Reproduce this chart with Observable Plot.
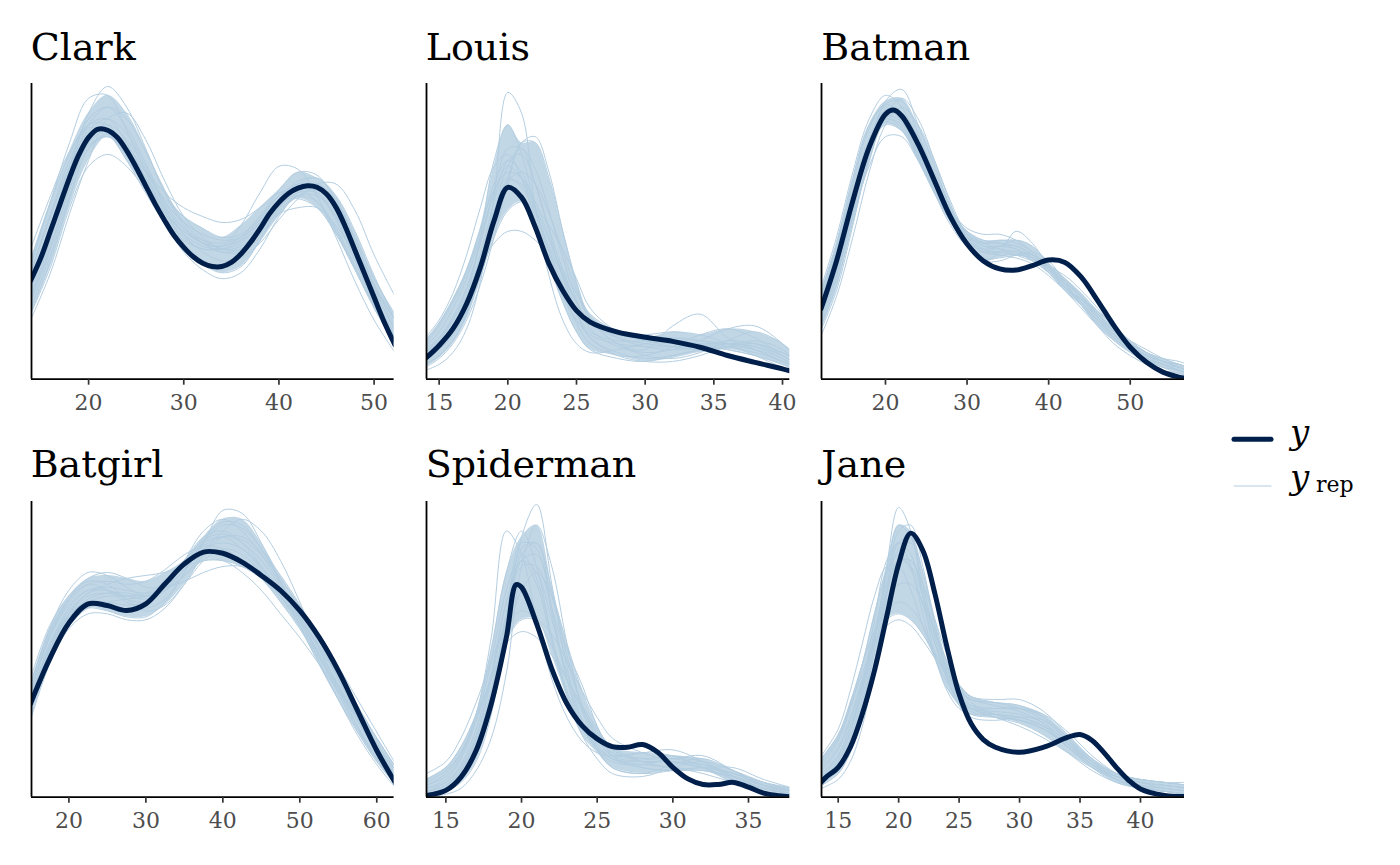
<!DOCTYPE html>
<html><head><meta charset="utf-8">
<script src="https://cdn.jsdelivr.net/npm/d3@7"></script>
<script src="https://cdn.jsdelivr.net/npm/@observablehq/plot@0.6"></script>
<style>
body{margin:0;background:#fff;}
#chart{position:relative;width:1400px;height:865px;background:#fff;overflow:hidden;}
#chart svg.panel{position:absolute;}
#overlay{position:absolute;left:0;top:0;}
</style></head><body><div id="chart"></div>
<script>
// ---- data (density heights in % of panel height) ----
const names = ["Clark","Louis","Batman","Batgirl","Spiderman","Jane"];

const clarkTicks = [20,30,40,50];
const clarkObsX = [13.9,15,16,17,18,19,20,21,22,23,24,25,26,27,28,29,30,31,32,33,34,35,36,37,38,39,40,41,42,43,44,45,46,47,48,49,50,51,52.2];
const clarkObs = [33.3,41.2,50.2,59.2,68.2,76.1,81.8,84.6,84.2,81.8,77.3,71.6,65.4,59.2,53.6,48.5,44.6,41.4,39.2,38.1,38.1,39.5,42.3,46.2,50.8,55.9,59.8,62.8,64.6,65.4,64.9,62.6,58.1,51.4,43.5,35.6,27.7,19.8,11.5];
const clarkRepX = [13.9,16,18,20,22,24,26,28,30,32,34,36,38,40,42,44,46,48,50,52.2];
const clarkRep = [
 [38,60,80,95,96,84,70,57,49,45,44,46,53,60,62,60,51,38,25,13],
 [28,47,70,90,99,92,78,63,52,46,43,44,50,58,63,63,55,42,28,15],
 [22,38,58,72,76,72,64,56,50,46,45,48,55,62,66,65,57,44,30,17],
 [20,36,56,74,88,90,81,67,55,48,44,45,51,60,66,68,62,50,35,20],
 [40,60,76,86,86,78,66,53,43,37,34,36,44,55,63,66,60,47,32,18],
 [30,48,66,79,82,77,70,63,58,55,53,54,58,63,64,60,50,37,24,12],
 [34,52,70,82,84,77,67,56,48,44,45,52,63,72,71,62,48,33,20,9],
 [26,44,64,80,86,81,71,59,49,43,40,41,46,54,61,66,66,57,42,28],
 [44,62,77,85,83,74,63,53,47,44,44,47,54,62,65,63,54,40,26,14],
 [32,52,72,88,92,85,73,60,51,46,45,47,51,56,58,58,52,42,31,20],
 [24,42,62,78,83,79,70,60,53,49,47,48,53,61,67,68,61,47,31,16],
 [36,55,72,84,88,83,72,58,46,39,36,38,47,58,65,65,57,43,28,14],
 [30,50,70,86,92,88,77,64,53,47,44,44,49,57,62,62,55,44,32,20],
 [27,45,65,80,84,78,68,58,51,47,46,48,54,60,61,58,49,37,25,13],
 [36,56,74,86,88,80,68,57,50,46,43,43,48,56,62,64,59,48,34,22],
 [22,40,61,78,82,76,68,61,55,51,48,49,55,64,70,69,60,45,29,14]
];

const louisTicks = [15,20,25,30,35,40];
const louisObsX = [14,15,16,17,18,19,20,21,22,23,24,25,26,28,30,32,34,36,38,40,40.6];
const louisObs = [7.0,11.4,17,25.5,37.8,53.6,64.9,61.5,51.4,39,30,23.2,19.3,15.9,14.2,12.8,10.8,8,5.7,3.5,2.7];
const louisRepX = [14,15,16,17,18,19,20,21,22,23,24,25,26,28,30,32,34,36,38,40,41];
const louisRep = [
 [3,5,9,17,33,62,97,90,58,35,20,12,9,10,12,13,12,10,8,5,3],
 [12,18,26,36,50,66,74,70,58,44,32,22,16,13,13,14,13,11,9,6,4],
 [10,14,20,28,38,46,50,50,47,42,37,29,22,16,13,11,10,11,12,9,7],
 [4,7,12,20,32,48,66,80,80,68,50,33,21,14,11,10,11,13,12,8,5],
 [9,14,21,31,46,63,72,68,57,43,30,19,12,8,8,11,15,17,14,8,5],
 [5,8,13,22,35,51,68,80,82,70,50,32,20,12,8,7,9,13,16,12,8],
 [14,20,29,42,58,72,76,68,54,39,26,16,10,7,6,8,10,12,12,9,6],
 [6,10,17,28,48,74,86,76,58,41,28,20,15,12,11,11,11,10,8,5,3],
 [7,11,17,26,40,56,67,70,66,56,43,30,20,12,10,18,22,14,10,6,4],
 [8,12,18,27,41,57,67,66,58,47,36,26,19,15,14,14,13,12,10,6,4],
 [11,16,24,34,48,62,68,65,56,45,35,26,19,14,12,11,11,12,11,8,5],
 [5,8,13,22,37,56,72,78,71,57,41,27,17,11,9,10,13,17,18,12,7],
 [9,13,20,30,46,64,78,78,66,50,34,22,14,9,7,8,10,11,10,7,4],
 [6,10,15,23,35,48,57,60,58,52,44,34,24,16,13,12,12,12,11,7,4],
 [13,19,27,37,51,64,70,68,60,48,35,23,14,8,6,6,8,11,13,10,6],
 [7,11,17,27,42,60,74,76,66,51,37,26,19,15,15,16,15,12,8,4,2]
];

const batmanTicks = [20,30,40,50];
const batmanObsX = [12.1,14,16,18,20,21,22,24,26,28,30,32,34,36,38,40,42,44,46,48,50,52,54,56,56.8];
const batmanObs = [23.8,40,60.4,78.4,89.6,91,89,79.5,67.1,54.7,45.7,40,37.3,36.9,38.4,40.3,39.5,34.5,26.6,18.1,10.8,5.7,2.4,0.7,0.3];
const batmanRepX = [12,14,16,18,20,22,24,26,28,30,32,34,36,38,40,42,44,46,48,50,52,54,56,57];
const batmanRep = [
 [30,48,70,88,96,92,80,68,56,48,44,42,41,39,35,30,25,20,15,11,8,6,4,3],
 [16,30,52,76,94,98,86,72,58,48,43,43,43,42,38,33,27,21,16,12,9,6,5,4],
 [20,35,55,72,82,82,74,65,57,51,49,49,47,43,38,32,26,20,14,10,7,5,3,2],
 [24,41,62,80,89,87,77,66,54,45,40,40,42,43,40,33,25,18,12,8,5,3,2,1],
 [27,44,66,85,93,89,76,63,52,45,43,45,47,45,39,32,25,19,14,10,8,6,5,4],
 [14,28,48,70,86,92,86,74,60,49,45,45,44,41,36,31,27,22,17,13,10,7,5,4],
 [22,38,59,78,88,86,76,66,57,50,46,44,42,40,38,35,30,24,17,11,7,4,3,2],
 [18,34,56,78,91,90,80,68,56,46,40,43,50,46,38,31,26,21,16,12,9,7,6,5],
 [28,46,68,86,92,87,75,63,53,46,44,45,45,42,36,30,24,18,13,9,6,4,3,2],
 [20,36,57,77,88,90,82,70,58,49,45,44,43,40,36,31,27,23,18,13,9,6,4,3],
 [25,40,60,78,86,84,75,65,56,50,47,46,44,41,37,33,28,22,16,11,7,5,3,2],
 [17,32,53,74,89,95,88,74,59,47,41,41,42,42,39,34,28,21,15,11,8,6,4,3],
 [23,39,61,81,91,89,78,66,55,48,46,47,46,43,37,31,25,19,14,10,7,5,4,3],
 [26,43,63,80,87,84,74,63,54,47,44,43,42,41,38,34,29,23,17,12,8,5,3,2],
 [21,37,58,79,93,94,83,69,56,47,43,42,42,41,37,32,26,20,15,11,8,6,5,4],
 [29,45,64,81,88,85,75,64,55,49,46,46,45,42,38,33,28,22,16,11,7,4,2,1]
];

const batgirlTicks = [20,30,40,50,60];
const batgirlObsX = [15,17.5,20,22.5,25,27.5,30,32.5,35,37.5,40,42.5,45,47.5,50,52.5,55,57.5,60,62.5];
const batgirlObs = [31.6,46.8,58.9,65.4,64.8,63.1,65.4,72.2,78.9,82.9,82.5,79.5,75,69.9,63.1,54.1,42.8,29.3,15.8,4.5];
const batgirlRepX = [15,17.5,20,22.5,25,27.5,30,32.5,35,37.5,40,42.5,45,47.5,50,52.5,55,57.5,60,62.5];
const batgirlRep = [
 [36,54,65,70,71,70,69,71,77,84,86,84,78,70,61,51,40,28,17,7],
 [28,48,62,69,70,67,66,70,80,90,94,90,82,72,61,50,38,26,15,5],
 [40,58,68,73,72,67,63,65,72,80,84,82,76,68,59,49,38,27,17,8],
 [30,50,61,64,63,61,61,66,76,87,93,92,84,73,61,48,35,23,13,4],
 [34,52,63,69,72,74,75,76,78,80,80,78,74,68,60,51,41,30,20,10],
 [26,45,57,62,62,60,60,64,72,82,88,88,83,75,65,53,40,27,15,5],
 [38,57,70,76,75,71,68,70,75,80,80,76,70,62,54,45,36,26,17,9],
 [32,51,64,70,70,68,68,72,80,88,90,86,78,68,58,48,37,26,16,7],
 [30,49,61,67,69,69,68,70,75,83,90,94,90,80,66,51,37,24,13,4],
 [35,54,66,72,73,72,73,77,82,85,84,80,74,66,57,47,37,27,18,9],
 [27,46,58,64,66,67,68,72,78,85,88,87,82,74,64,53,41,29,17,6],
 [38,56,67,72,70,66,64,67,76,86,92,91,84,73,60,46,33,21,11,3],
 [33,51,62,66,66,65,66,71,79,86,88,84,77,69,61,53,44,33,22,11],
 [29,48,60,66,68,68,69,73,80,87,89,86,80,71,60,48,36,24,13,4],
 [36,55,67,74,76,74,71,71,73,76,78,78,75,70,62,53,42,31,20,10],
 [31,50,62,68,69,68,67,70,77,86,97,96,86,72,58,45,33,22,12,4]
];

const spiderTicks = [15,20,25,30,35];
const spiderObsX = [13.7,15,16,17,18,19,19.65,20,21,22,23,24,25,26,27,28,29,30,31,32,33,34,35,36,37,37.8];
const spiderObs = [0.6,2.3,6.8,15.8,31.6,54.1,71.9,71,58.6,43.4,31.6,24.2,19.7,17.1,16.9,17.8,15.2,10.1,6.2,4.3,4.3,5,3.4,1.4,0.5,0.1];
const spiderRepX = [13.7,15,16,17,18,19,20,21,22,23,24,25,26,28,30,32,34,36,38];
const spiderRep = [
 [2,4,9,20,40,66,80,72,52,35,24,17,13,12,12,10,6,3,1],
 [1,2,5,12,28,56,84,86,64,40,24,16,12,11,13,12,7,3,1],
 [6,10,17,28,40,52,56,54,48,40,31,23,17,12,10,9,7,4,2],
 [0,1,3,9,20,42,78,92,78,52,30,17,10,8,11,13,9,4,1],
 [4,7,14,28,54,90,82,60,40,27,19,15,14,15,14,10,5,2,1],
 [1,3,7,15,31,53,70,76,68,52,36,24,16,12,13,14,9,4,2],
 [3,6,13,26,46,70,82,74,54,36,24,17,13,11,10,8,5,3,2],
 [8,12,20,32,46,58,63,60,51,40,30,22,16,13,13,11,7,3,1],
 [2,4,9,19,36,60,80,82,68,50,38,24,14,10,9,10,10,6,3],
 [1,2,6,14,32,60,88,99,72,44,26,16,10,8,9,10,8,5,3],
 [3,5,10,21,40,62,78,78,64,46,31,21,15,13,14,12,7,3,1],
 [5,9,15,26,40,53,60,60,55,46,36,27,20,15,12,10,8,5,2],
 [1,3,8,18,36,62,86,84,62,40,26,18,13,10,9,9,7,4,3],
 [2,5,11,23,42,66,80,76,60,42,29,20,14,15,16,12,6,2,1],
 [4,8,15,28,50,76,90,78,54,34,21,13,8,7,10,12,9,5,2],
 [1,3,7,16,34,60,82,86,70,48,31,20,14,12,12,11,8,4,2]
];

const janeTicks = [15,20,25,30,35,40];
const janeObsX = [13.6,14,15,16,17,18,19,20,21,22,23,24,25,26,27,28,30,32,34,35,36,37,38,39,40,42,43.7];
const janeObs = [5.1,6.8,10.1,16.9,28.2,42.8,60.9,78.9,89.3,83.4,68.8,50.7,34.9,24.8,19.5,16.9,15.2,16.9,20.3,21.2,19.2,15,10.1,5.8,2.8,0.6,0.2];
const janeRepX = [13.6,15,16,17,18,19,20,21,22,23,24,25,26,28,30,32,34,36,38,40,42,44];
const janeRep = [
 [8,14,24,38,56,72,80,78,68,55,43,35,30,28,27,24,17,10,6,4,3,2],
 [4,8,16,30,52,76,92,88,72,54,40,32,28,27,26,23,17,11,6,3,2,1],
 [12,20,31,42,52,58,60,58,53,47,41,36,33,31,29,25,18,11,7,5,4,3],
 [3,6,12,24,44,70,90,92,78,58,41,31,27,26,27,26,20,12,6,3,1,1],
 [10,17,27,40,52,60,62,60,55,48,42,38,34,32,30,26,19,12,8,6,5,4],
 [6,11,20,34,54,74,86,82,68,52,40,33,30,29,28,25,18,11,6,3,2,1],
 [14,23,36,52,68,78,78,70,58,47,39,34,31,30,30,27,20,12,7,5,4,3],
 [5,10,18,32,52,78,98,90,68,48,36,30,28,28,27,24,17,10,5,3,2,1],
 [7,13,22,36,54,70,80,80,72,60,48,38,32,28,26,23,18,12,8,6,5,4],
 [9,16,26,39,54,66,72,72,66,56,46,38,34,33,33,29,21,13,7,4,3,2],
 [4,8,15,27,46,68,84,86,76,60,45,35,30,27,24,20,15,10,7,6,5,5],
 [11,19,30,45,62,76,82,77,65,52,42,36,33,32,31,27,19,11,6,3,2,1],
 [6,12,22,38,60,80,86,78,62,47,37,32,30,30,30,28,22,14,8,4,2,1],
 [8,14,24,37,54,70,80,80,70,56,44,36,31,28,26,23,17,11,7,5,4,3],
 [13,21,32,45,56,63,66,64,58,49,41,34,30,27,25,21,15,9,5,3,2,1],
 [5,9,17,30,49,70,86,88,76,58,43,34,29,27,26,24,19,13,8,5,3,2]
];

// ---- layout ----
const colL = [30.7, 425.7, 821.3], colR = [393.3, 789, 1184.3];
const rowT = [83, 501], rowB = [378.7, 796.7];

const panels = [
 {name:names[0], c:0, r:0, domain:[14.0,52.1], ticks:clarkTicks, obsX:clarkObsX, obs:clarkObs, repX:clarkRepX, rep:clarkRep},
 {name:names[1], c:1, r:0, domain:[14.08,40.53], ticks:louisTicks, obsX:louisObsX, obs:louisObs, repX:louisRepX, rep:louisRep},
 {name:names[2], c:2, r:0, domain:[12.16,56.65], ticks:batmanTicks, obsX:batmanObsX, obs:batmanObs, repX:batmanRepX, rep:batmanRep},
 {name:names[3], c:0, r:1, domain:[15.14,62.25], ticks:batgirlTicks, obsX:batgirlObsX, obs:batgirlObs, repX:batgirlRepX, rep:batgirlRep},
 {name:names[4], c:1, r:1, domain:[13.72,37.73], ticks:spiderTicks, obsX:spiderObsX, obs:spiderObs, repX:spiderRepX, rep:spiderRep},
 {name:names[5], c:2, r:1, domain:[13.62,43.64], ticks:janeTicks, obsX:janeObsX, obs:janeObs, repX:janeRepX, rep:janeRep}
];

const chart = document.getElementById("chart");
const ml = 12, mr = 12, mt = 4, mb = 52;
const repColor = "#b3cde0", yColor = "#011f4b";

for (const p of panels) {
  const left = colL[p.c], right = colR[p.c], top = rowT[p.r], bottom = rowB[p.r];
  const fw = right - left, fh = bottom - top;
  const repRows = p.rep.flatMap((vals, k) => vals.map((v, i) => ({x: p.repX[i], v, k})));
  const obsRows = p.obsX.map((x, i) => ({x, v: p.obs[i]}));
  // dense core of the overlaid draws: span of the draws at each x, excluding the two extremes
  const bandRows = p.repX.map((x, i) => {
    const s = p.rep.map(r => r[i]).sort((a, b) => a - b);
    return {x, lo: s[1], hi: s[s.length - 2]};
  });
  const svg = Plot.plot({
    width: fw + ml + mr, height: fh + mt + mb,
    marginLeft: ml, marginRight: mr, marginTop: mt, marginBottom: mb,
    x: {domain: p.domain},
    y: {domain: [0, 100], axis: null},
    style: {fontFamily: "DejaVu Serif", background: "transparent", overflow: "visible"},
    marks: [
      Plot.areaY(bandRows, {x: "x", y1: "lo", y2: "hi", fill: repColor, fillOpacity: 0.8, curve: "catmull-rom", clip: true}),
      Plot.line(repRows, {x: "x", y: "v", z: "k", stroke: repColor, strokeOpacity: 1, strokeWidth: 1, curve: "catmull-rom", clip: true}),
      Plot.line(obsRows, {x: "x", y: "v", stroke: yColor, strokeWidth: 5, curve: "catmull-rom", clip: true}),
      Plot.ruleY([0], {stroke: "#000", strokeWidth: 1.8}),
      Plot.ruleX([p.domain[0]], {y1: 0, y2: 100, stroke: "#000", strokeWidth: 1.8}),
      Plot.axisX({ticks: p.ticks, tickSize: 6, tickPadding: 9, fontSize: 22, stroke: "#333", strokeWidth: 1.7, fill: "#4d4d4d", strokeOpacity: 1, label: null, tickFormat: d => String(d)})
    ]
  });
  svg.classList.add("panel");
  svg.style.left = (left - ml) + "px";
  svg.style.top = (top - mt) + "px";
  chart.appendChild(svg);
}

// ---- titles and legend ----
const NS = "http://www.w3.org/2000/svg";
const ov = document.createElementNS(NS, "svg");
ov.setAttribute("id", "overlay");
ov.setAttribute("width", 1400); ov.setAttribute("height", 865);
const titleBase = [59.5, 476.5];
function addText(txt, x, y, size, style, fill) {
  const t = document.createElementNS(NS, "text");
  t.setAttribute("x", x); t.setAttribute("y", y);
  t.setAttribute("font-family", "DejaVu Serif");
  t.setAttribute("font-size", size);
  if (style) t.setAttribute("font-style", style);
  t.setAttribute("fill", fill || "#000");
  t.textContent = txt;
  ov.appendChild(t);
}
for (const p of panels) addText(p.name, colL[p.c], titleBase[p.r], 38, null, "#000");
function addLine(x1, x2, y, color, w, op) {
  const l = document.createElementNS(NS, "line");
  l.setAttribute("x1", x1); l.setAttribute("x2", x2);
  l.setAttribute("y1", y); l.setAttribute("y2", y);
  l.setAttribute("stroke", color); l.setAttribute("stroke-width", w);
  l.setAttribute("stroke-opacity", op); l.setAttribute("stroke-linecap", "round");
  ov.appendChild(l);
}
addLine(1234, 1271, 439.3, yColor, 5, 1);
addLine(1234, 1271, 486, repColor, 1, 1);
addText("y", 1290, 444, 34, "italic", "#000");
addText("y", 1290, 489, 34, "italic", "#000");
addText("rep", 1316, 491.5, 22, null, "#000");
chart.appendChild(ov);
</script>
</body></html>
